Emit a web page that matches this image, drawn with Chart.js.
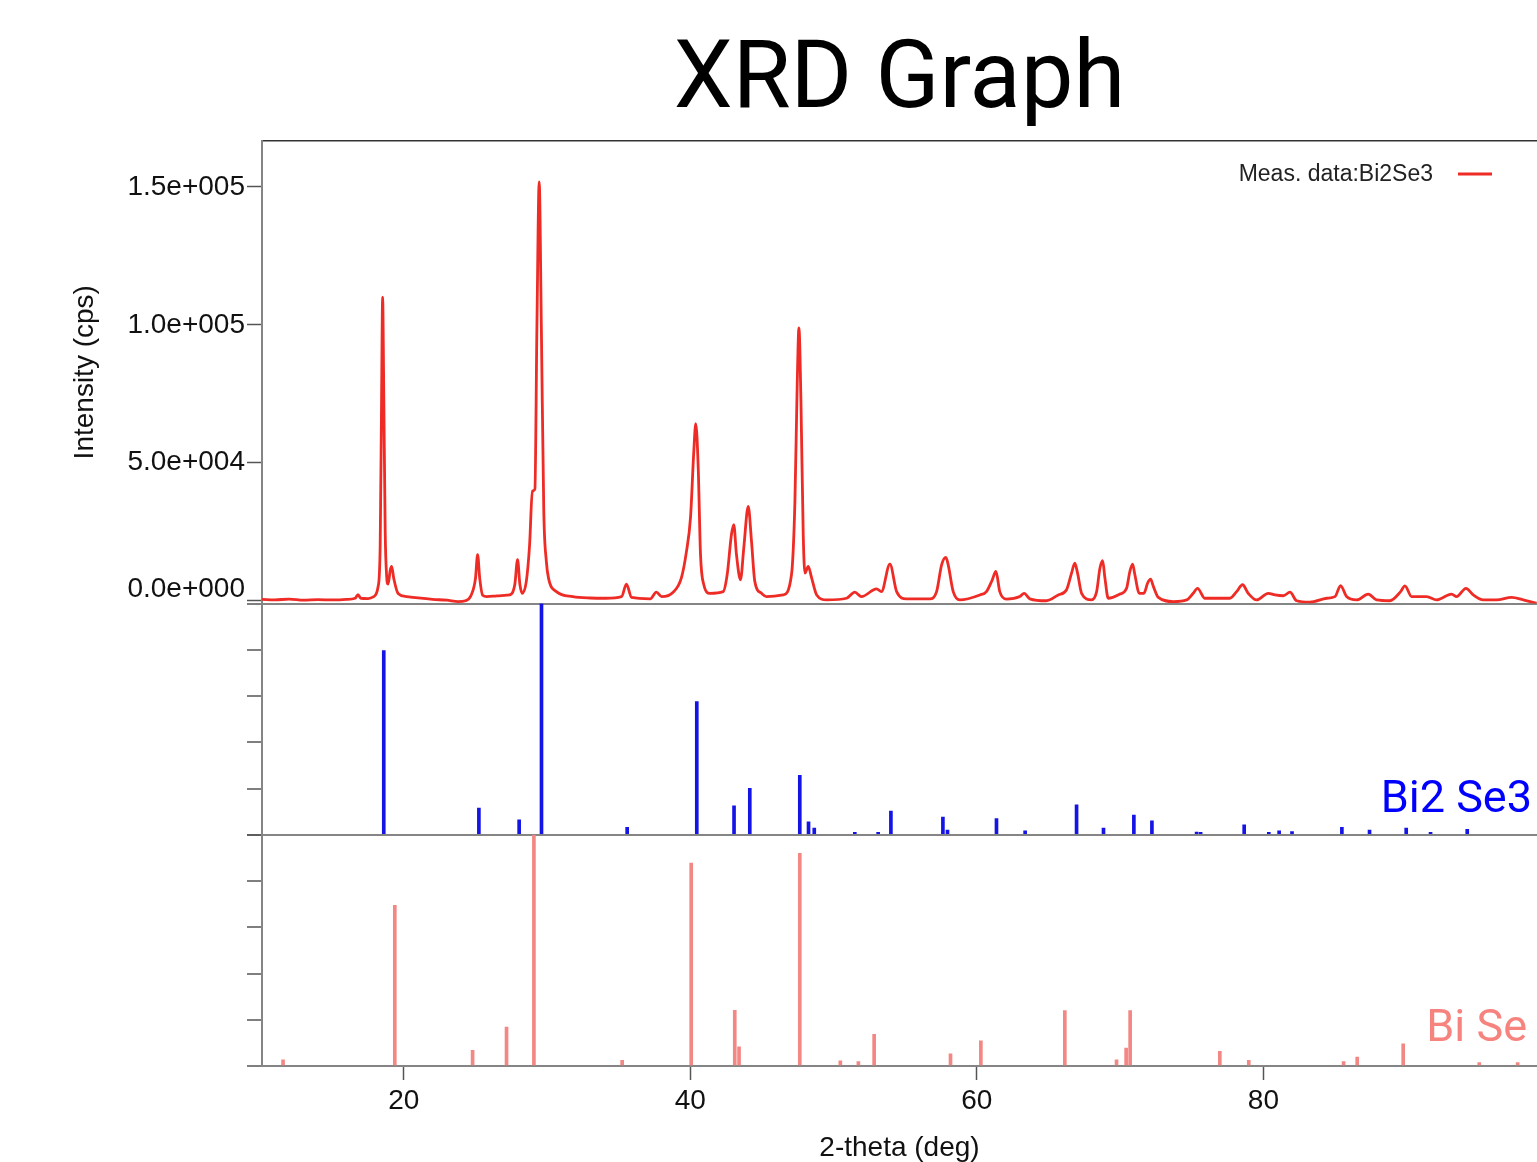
<!DOCTYPE html>
<html>
<head>
<meta charset="utf-8">
<title>XRD Graph</title>
<script src="https://cdn.jsdelivr.net/npm/chart.js@4.4.1/dist/chart.umd.min.js"></script>
<style>
  html, body { margin: 0; padding: 0; background: #fff; }
  canvas { display: block; }
</style>
</head>
<body>
<canvas id="xrdChart" width="1537" height="1162"></canvas>
<script>
const measured = [
    [10.1, 500], [11.0, 300], [12.0, 600], [13.0, 200], [14.0, 400], [15.0, 300],
    [16.0, 500], [16.6, 900], [16.8, 2200], [17.0, 900], [17.5, 800], [17.9, 1500],
    [18.2, 5000], [18.35, 20000], [18.45, 75000], [18.52, 110000], [18.6, 75000],
    [18.7, 25000], [18.8, 9000], [18.9, 6000], [19.05, 11000], [19.15, 12400],
    [19.3, 8000], [19.6, 2600], [20.2, 1500], [21.0, 1000], [22.0, 500], [23.0, 200],
    [23.8, -300], [24.3, 0], [24.7, 2000], [25.0, 8000], [25.15, 16700], [25.3, 8000],
    [25.5, 2000], [25.8, 1500], [26.5, 1800], [27.2, 2000], [27.5, 2400], [27.75, 6000],
    [27.94, 14900], [28.1, 6000], [28.27, 2700], [28.55, 7000], [28.78, 20300],
    [28.97, 39700], [29.15, 40400], [29.29, 99000], [29.45, 151800], [29.6, 99000],
    [29.77, 32400], [29.95, 14200], [30.1, 8200], [30.65, 3300], [31.8, 1500],
    [33.0, 1000], [34.1, 900], [35.2, 1500], [35.54, 6000], [35.9, 1200], [37.2, 700],
    [37.63, 3100], [38.0, 1500], [38.8, 3100], [39.37, 8200], [39.73, 17900],
    [40.01, 30000], [40.24, 54000], [40.38, 64200], [40.55, 48200], [40.71, 16700],
    [40.94, 5800], [41.36, 2700], [42.29, 3300], [42.57, 9400], [42.87, 24000],
    [43.03, 27600], [43.22, 16700], [43.5, 7600], [43.73, 19100], [44.04, 34200],
    [44.27, 21500], [44.5, 7000], [44.97, 2700], [45.32, 1500], [46.48, 2100],
    [47.06, 9400], [47.3, 36000], [47.46, 78500], [47.58, 98900], [47.72, 72400],
    [47.88, 24000], [48.0, 10000], [48.23, 12400], [48.47, 8200], [48.82, 2100],
    [49.52, 300], [50.9, 900], [51.48, 3100], [51.95, 1500], [53.0, 4300], [53.34, 3300],
    [53.93, 13300], [54.4, 3300], [55.09, 700], [56.72, 700], [57.19, 3300],
    [57.54, 13000], [57.84, 15700], [58.0, 13000], [58.35, 3300], [58.81, 300],
    [60.21, 2100], [60.67, 3300], [61.07, 7500], [61.33, 10600], [61.6, 3300],
    [62.07, 550], [63.0, 1500], [63.3, 2700], [63.7, 700], [64.86, 0], [65.68, 2100],
    [66.26, 4000], [66.61, 10000], [66.84, 13600], [67.03, 10000], [67.31, 2700],
    [68.0, 300], [68.36, 3300], [68.59, 11800], [68.78, 14500], [68.94, 8200],
    [69.17, 900], [69.98, 2400], [70.45, 4500], [70.68, 10600], [70.87, 13300],
    [71.03, 9400], [71.34, 2700], [71.66, 2700], [71.92, 6400], [72.13, 7800],
    [72.32, 5200], [72.67, 1200], [73.72, -300], [74.65, 300], [75.1, 2700],
    [75.4, 4500], [75.92, 900], [77.66, 900], [78.13, 3300], [78.55, 5800],
    [78.94, 2700], [79.53, 300], [80.34, 2700], [80.81, 2100], [81.39, 1800],
    [81.86, 3100], [82.32, 0], [83.25, -500], [84.42, 900], [85.0, 1500], [85.39, 5500],
    [85.81, 1500], [86.51, 300], [87.32, 2400], [87.9, 300], [88.83, 0], [89.58, 3300],
    [89.88, 5400], [90.35, 1500], [91.4, 1500], [92.09, 300], [93.14, 2400],
    [93.49, 1500], [94.14, 4500], [94.65, 2100], [95.35, 300], [96.28, 300],
    [97.33, 1200], [98.14, 300], [99.07, -900]
];

// reference sticks, [2-theta, relative intensity %]
const bi2se3Peaks = [
    [18.6, 79.6], [25.24, 11.5], [28.05, 6.5], [29.61, 100], [35.59, 3.2], [40.45, 57.6],
    [43.05, 12.5], [44.15, 20.1], [47.64, 25.7], [48.25, 5.6], [48.65, 2.9], [51.48, 1.0],
    [53.11, 1.0], [54.0, 10.2], [57.63, 7.6], [57.95, 2.0], [61.37, 7.0], [63.37, 1.7],
    [66.96, 12.9], [68.84, 2.9], [70.96, 8.5], [72.22, 6.0], [75.34, 1.2], [75.62, 1.0],
    [78.66, 4.3], [80.38, 1.0], [81.1, 1.7], [82.0, 1.4], [85.48, 3.2], [87.41, 2.0],
    [89.97, 2.9], [91.67, 1.0], [94.23, 2.3]
];
const biSePeaks = [
    [11.57, 2.7], [19.37, 69.5], [24.8, 6.8], [27.17, 16.8], [29.08, 100], [35.24, 2.5],
    [40.06, 87.7], [43.1, 24.1], [43.4, 8.3], [47.64, 92.0], [50.47, 2.2], [51.73, 1.9],
    [52.83, 13.7], [58.16, 5.3], [60.28, 10.9], [66.14, 24.0], [69.75, 2.7], [70.42, 7.8],
    [70.7, 24.0], [76.96, 6.3], [78.98, 2.5], [85.6, 1.9], [86.55, 3.9], [89.76, 9.6],
    [95.07, 1.5], [97.75, 1.5]
];

const xTicks = [20, 40, 60, 80];
const cpsTicks = [0, 50000, 100000, 150000];
const relTicks = [0, 20, 40, 60, 80, 100];

const measLabel = 'Meas. data:Bi2Se3';
const measColor = '#ee2b25';
const bi2se3Color = '#1414e6';
const biSeColor = '#f28784';

const axisFont = { family: '"Liberation Sans", Arial, sans-serif', size: 28 };
const axisGrey = '#858585';
const tickDark = '#555';

function sciLabel(v) {
    if (v === 0) return ['0.0e+000', ''];   // lifted a bit like the original
    const e = Math.floor(Math.log10(Math.abs(v)));
    const m = v / Math.pow(10, e);
    return m.toFixed(1) + 'e+' + String(e).padStart(3, '0');
}

const toPoints = arr => arr.map(p => ({ x: p[0], y: p[1] }));

// legend line + phase names drawn over the plot
const overlayText = {
    id: 'overlayText',
    afterDatasetsDraw(chart) {
        const { ctx, chartArea } = chart;
        const y2 = chart.scales.y2, y3 = chart.scales.y3;
        ctx.save();
        const ly = chartArea.top + 34;
        ctx.font = '23px "Liberation Sans", Arial, sans-serif';
        ctx.fillStyle = '#222';
        ctx.textAlign = 'right';
        ctx.textBaseline = 'middle';
        ctx.fillText(measLabel, chartArea.right - 104, ly);
        ctx.strokeStyle = measColor;
        ctx.lineWidth = 3;
        ctx.beginPath();
        ctx.moveTo(chartArea.right - 79, ly - 1);
        ctx.lineTo(chartArea.right - 45, ly - 1);
        ctx.stroke();

        ctx.font = '45px Roboto, sans-serif';
        ctx.textBaseline = 'alphabetic';
        ctx.fillStyle = '#0000ff';
        ctx.fillText('Bi2 Se3', chartArea.right - 5, y2.bottom - 23);
        ctx.fillStyle = '#f7837f';
        ctx.fillText('Bi Se', chartArea.right - 10, y3.bottom - 25);
        ctx.restore();
    }
};

const boundaryGrid = ctx => (ctx.tick && (ctx.tick.value === 0 || ctx.tick.value === 100)) ? axisGrey : 'rgba(0,0,0,0)';

const ctx = document.getElementById('xrdChart').getContext('2d');
new Chart(ctx, {
    type: 'line',
    data: {
        datasets: [{
            label: measLabel,
            data: toPoints(measured),
            borderColor: measColor,
            borderWidth: 2.8,
            pointRadius: 0,
            cubicInterpolationMode: 'monotone',
            fill: false,
            yAxisID: 'y'
        }, {
            type: 'bar',
            label: 'Bi2 Se3',
            data: toPoints(bi2se3Peaks),
            backgroundColor: bi2se3Color,
            barThickness: 3,
            grouped: false,
            yAxisID: 'y2'
        }, {
            type: 'bar',
            label: 'Bi Se',
            data: toPoints(biSePeaks),
            backgroundColor: biSeColor,
            barThickness: 3,
            grouped: false,
            yAxisID: 'y3'
        }]
    },
    options: {
        responsive: false,
        animation: false,
        devicePixelRatio: 1,
        layout: { padding: 0 },
        plugins: {
            legend: { display: false },
            tooltip: { enabled: false },
            title: {
                display: true,
                text: 'XRD Graph',
                fullSize: false,
                color: '#000',
                font: { family: 'Roboto, sans-serif', size: 94, weight: 'normal', lineHeight: 1.2 },
                padding: { top: 27, bottom: 1.2 }
            }
        },
        scales: {
            x: {
                type: 'linear',
                min: 10.1,
                max: 99.1,
                offset: false,
                afterBuildTicks: s => { s.ticks = xTicks.map(v => ({ value: v })); },
                afterFit: s => { s.height = 96; },
                ticks: { font: axisFont, color: '#111', padding: 4, maxRotation: 0 },
                grid: { offset: false, drawOnChartArea: false, tickLength: 14, tickColor: tickDark, tickWidth: 1.5 },
                border: { color: axisGrey, width: 2 },
                title: { display: true, text: '2-theta (deg)', font: axisFont, color: '#111', padding: { top: 0, bottom: -3 } }
            },
            xTop: {
                type: 'linear',
                position: 'top',
                min: 10.1,
                max: 99.1,
                ticks: { display: false },
                grid: { display: false, drawTicks: false },
                border: { color: '#333', width: 1.5 },
                afterFit: s => { s.height = 0; }
            },
            y: {
                type: 'linear',
                position: 'left',
                stack: 'xrd',
                stackWeight: 2,
                weight: 3,
                min: -1000,
                max: 166600,
                afterBuildTicks: s => { s.ticks = cpsTicks.map(v => ({ value: v })); },
                afterFit: s => { s.width = 262; },
                ticks: {
                    font: Object.assign({}, axisFont, { lineHeight: 0.85 }),
                    color: '#111',
                    padding: 2,
                    callback: v => sciLabel(v)
                },
                grid: { drawOnChartArea: false, tickLength: 15, tickColor: tickDark, tickWidth: 1.5 },
                border: { color: axisGrey, width: 2 },
                title: { display: true, text: 'Intensity (cps)', font: axisFont, color: '#111', padding: { top: 68, bottom: 0 } }
            },
            y2: {
                type: 'linear',
                position: 'left',
                stack: 'xrd',
                stackWeight: 1,
                weight: 2,
                min: 0,
                max: 100,
                afterBuildTicks: s => { s.ticks = relTicks.map(v => ({ value: v })); },
                afterFit: s => { s.width = 262; },
                ticks: { display: false },
                grid: { color: boundaryGrid, lineWidth: 2, tickLength: 15, tickColor: tickDark, tickWidth: 1.5 },
                border: { color: axisGrey, width: 2 }
            },
            y3: {
                type: 'linear',
                position: 'left',
                stack: 'xrd',
                stackWeight: 1,
                weight: 1,
                min: 0,
                max: 100,
                afterBuildTicks: s => { s.ticks = relTicks.map(v => ({ value: v })); },
                afterFit: s => { s.width = 262; },
                ticks: { display: false },
                grid: { color: boundaryGrid, lineWidth: 2, tickLength: 15, tickColor: tickDark, tickWidth: 1.5 },
                border: { color: axisGrey, width: 2 }
            }
        }
    },
    plugins: [overlayText]
});
</script>
</body>
</html>
